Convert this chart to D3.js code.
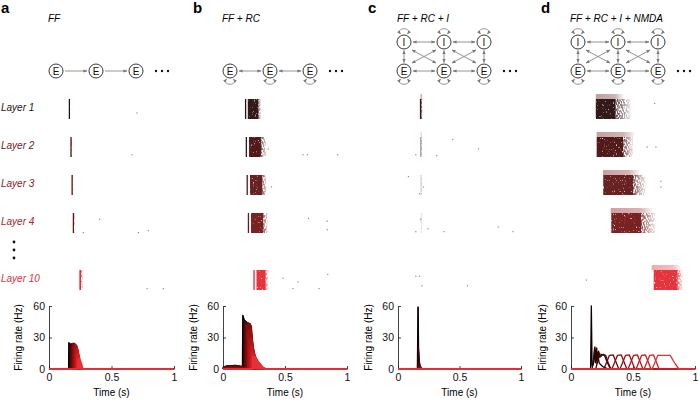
<!DOCTYPE html>
<html>
<head>
<meta charset="utf-8">
<script src="https://cdn.jsdelivr.net/npm/d3@7"></script>
<style>
  body { margin: 0; background: #fff; }
  svg { font-family: "Liberation Sans", Arial, Helvetica, sans-serif; }
</style>
</head>
<body>
<svg id="chart" width="699" height="400"></svg>
<script>
// panel headings
const panelLetters = ["a", "b", "c", "d"];
const panelTitles = ["FF", "FF + RC", "FF + RC + I", "FF + RC + I + NMDA"];

// raster rows (only some layers are shown)
const layerRows = ["Layer 1", "Layer 2", "Layer 3", "Layer 4", "Layer 10"];
const rowSlots = [0, 1, 2, 3, 4.5];
const labelColors = ["#231414", "#6e1d22", "#8a2026", "#a8232a", "#d9323a"];
const rasterColors = ["#2b0d0d", "#4a1111", "#5e1212", "#731313", "#e42a33"];
const inhibColors = ["#b89596", "#c09596", "#c49596", "#c89596", "#f0a0a6"];

// firing-rate curve colours, layer 1 .. layer 10
const layerColors = ["#0a0000", "#2e0505", "#4c0808", "#670b0b", "#810e0f",
  "#991113", "#b11418", "#c6181d", "#d91e25", "#e5323a"];

const rateTicks = [0, 30, 60];
const timeTicks = [0, 0.5, 1];

// excitatory raster blocks per row: [start, end of dense part, end of sparse part, density, onset line]
const rasterA = [[0.158, 0.168, 0.172, 1], [0.171, 0.181, 0.186, 1], [0.18, 0.19, 0.195, 1],
  [0.19, 0.2, 0.206, 1], [0.243, 0.256, 0.272, 1]];
const rasterB = [[0.2, 0.285, 0.306, 0.95, 0.177], [0.21, 0.306, 0.35, 0.95, 0.183],
  [0.218, 0.317, 0.35, 0.95, 0.19], [0.226, 0.325, 0.36, 0.95, 0.2],
  [0.27, 0.344, 0.365, 0.95, 0.245]];
const rasterC = [[0.178, 0.19, 0.2, 0.95], [0.18, 0.19, 0.197, 0.45], [0.182, 0.188, 0.196, 0.2],
  [0.185, 0.19, 0.198, 0.12], [0.2, 0.2, 0.2, 0]];
const rasterD = [[0.2, 0.36, 0.48, 0.95], [0.207, 0.42, 0.5, 0.95], [0.26, 0.5, 0.6, 0.95],
  [0.325, 0.565, 0.68, 0.95], [0.667, 0.86, 0.9, 0.95]];

// inhibitory raster bands per row: [start, end, density]
const inhibC = [[0.183, 0.2, 0.8], [0.184, 0.196, 0.4], null, null, null];
const inhibD = [[0.2, 0.42, 0.9], [0.207, 0.51, 0.9], [0.258, 0.548, 0.9],
  [0.32, 0.653, 0.9], [0.65, 0.885, 0.9]];

// stray spikes: [row, time, position inside row]
const strayA = [[0, 0.7, 0.7], [1, 0.66, 0.9], [3, 0.4, 0.3], [3, 0.27, 1], [3, 0.71, 1],
  [3, 0.79, 0.9], [4, 0.78, 0.95], [4, 0.91, 0.95]];
const strayB = [[1, 0.36, 0.6], [1, 0.64, 0.9], [1, 0.675, 0.9], [1, 0.92, 0.9], [2, 0.385, 0.6],
  [3, 0.685, 0.25], [3, 0.836, 0.4], [3, 0.836, 0.85], [4, 0.48, 0.4], [4, 0.6, 0.6],
  [4, 0.56, 0.95], [4, 0.84, 0.2], [4, 0.77, 0.95]];
const strayC = [[1, 0.44, 0.1], [1, 0.65, 0.6], [1, 0.14, 0.9], [1, 0.31, 0.95], [2, 0.08, 0.05],
  [2, 0.2, 0.6], [2, 0.17, 0.95], [3, 0.18, 0.3], [3, 0.24, 0.8], [3, 0.14, 0.95],
  [3, 0.37, 0.95], [3, 0.81, 0.7], [3, 0.93, 0.95], [4, 0.14, 0.3], [4, 0.17, 0.3],
  [4, 0.19, 0.8], [4, 0.56, 0.8]];
const strayD = [[0, 0.67, 0.2], [1, 0.61, 0.5], [1, 0.68, 0.5], [2, 0.72, 0.3], [2, 0.72, 0.6],
  [4, 0.12, 0.5]];

// firing rates (Hz) for layers 1..10: [time (s), rate]
const rateA = [
  [[0.157, 0], [0.159, 25], [0.168, 23], [0.178, 22], [0.186, 10], [0.194, 0]],
  [[0.165, 0], [0.167, 23], [0.176, 24], [0.186, 23], [0.194, 10], [0.202, 0]],
  [[0.172, 0], [0.175, 22], [0.184, 24], [0.194, 23], [0.202, 10], [0.21, 0]],
  [[0.18, 0], [0.183, 22], [0.192, 24.5], [0.202, 23], [0.21, 10], [0.218, 0]],
  [[0.188, 0], [0.191, 22], [0.2, 24.5], [0.21, 23], [0.218, 10], [0.226, 0]],
  [[0.196, 0], [0.199, 21], [0.208, 24], [0.218, 22], [0.226, 10], [0.234, 0]],
  [[0.204, 0], [0.207, 20], [0.216, 23], [0.226, 21], [0.234, 9], [0.242, 0]],
  [[0.212, 0], [0.215, 17], [0.224, 20], [0.234, 18], [0.242, 8], [0.25, 0]],
  [[0.22, 0], [0.223, 13], [0.232, 15], [0.242, 13], [0.25, 6], [0.258, 0]],
  [[0.228, 0], [0.232, 9], [0.242, 10], [0.252, 8], [0.262, 4], [0.272, 0]]
];
const rateB = [
  [[0, 1], [0.05, 1.5], [0.157, 1], [0.16, 51], [0.17, 47], [0.185, 45], [0.2, 42], [0.215, 25], [0.23, 4], [0.245, 0]],
  [[0, 2], [0.04, 3], [0.1, 3.5], [0.15, 2.5], [0.165, 2], [0.167, 45], [0.18, 45], [0.2, 44], [0.215, 38], [0.228, 15], [0.24, 2], [0.25, 0]],
  [[0, 2], [0.05, 3], [0.12, 3], [0.155, 2], [0.172, 2], [0.174, 44], [0.19, 44], [0.21, 43], [0.225, 36], [0.235, 14], [0.25, 2], [0.26, 0]],
  [[0, 1.5], [0.06, 2.5], [0.14, 2], [0.18, 1], [0.182, 43], [0.2, 44], [0.22, 43], [0.232, 32], [0.242, 14], [0.26, 2], [0.27, 0]],
  [[0, 1], [0.1, 1.5], [0.188, 1], [0.19, 41], [0.21, 43], [0.228, 41], [0.238, 26], [0.25, 12], [0.27, 2], [0.28, 0]],
  [[0.197, 0], [0.2, 36], [0.218, 38], [0.232, 32], [0.245, 20], [0.258, 10], [0.28, 2], [0.29, 0]],
  [[0.207, 0], [0.21, 28], [0.226, 30], [0.24, 22], [0.252, 16], [0.268, 8], [0.29, 2], [0.3, 0]],
  [[0.217, 0], [0.22, 22], [0.236, 22], [0.248, 16], [0.262, 12], [0.28, 6], [0.3, 2], [0.315, 0]],
  [[0.227, 0], [0.23, 16], [0.245, 15], [0.258, 12], [0.272, 9], [0.29, 5], [0.31, 2], [0.33, 0]],
  [[0.237, 0], [0.24, 12], [0.255, 12], [0.27, 10], [0.285, 7], [0.3, 5], [0.32, 2], [0.35, 0]]
];
const rateC = [
  [[0.158, 0], [0.163, 59], [0.167, 18], [0.172, 6], [0.18, 2], [0.19, 0]],
  [[0.16, 0], [0.165, 21], [0.17, 10], [0.178, 3], [0.19, 1], [0.2, 0]],
  [[0.163, 0], [0.168, 6], [0.175, 3], [0.19, 1], [0.2, 0]],
  [[0.166, 0], [0.172, 3], [0.185, 1], [0.2, 0]],
  [[0.17, 0], [0.175, 1.5], [0.19, 0.5], [0.2, 0]],
  [[0.17, 0], [0.18, 1], [0.2, 0]],
  [[0.175, 0], [0.18, 0.5], [0.2, 0]],
  [[0.18, 0], [0.19, 0.3], [0.2, 0]],
  [[0.18, 0], [0.19, 0.3], [0.2, 0]],
  [[0.18, 0], [0.19, 0.3], [0.2, 0]]
];
const rateD = [
  [[0.158, 0], [0.164, 60], [0.17, 3], [0.18, 4], [0.19, 20], [0.196, 6], [0.203, 18], [0.21, 5], [0.218, 14], [0.226, 6], [0.24, 4], [0.26, 2], [0.3, 0]],
  [[0.17, 0], [0.185, 12], [0.193, 21], [0.2, 8], [0.207, 20], [0.214, 9], [0.222, 17], [0.232, 11], [0.245, 14], [0.27, 13], [0.29, 7], [0.31, 2], [0.33, 0]],
  [[0.2, 0], [0.215, 8], [0.23, 15], [0.24, 12], [0.26, 14], [0.28, 13], [0.3, 6], [0.32, 0]],
  [[0.265, 0], [0.31, 13], [0.34, 13.5], [0.385, 0]],
  [[0.33, 0], [0.375, 13], [0.405, 13.5], [0.45, 0]],
  [[0.395, 0], [0.44, 13], [0.47, 13.5], [0.515, 0]],
  [[0.46, 0], [0.505, 13], [0.535, 13.5], [0.58, 0]],
  [[0.525, 0], [0.57, 13], [0.6, 13.5], [0.645, 0]],
  [[0.59, 0], [0.635, 13], [0.665, 13.5], [0.71, 0]],
  [[0.655, 0], [0.7, 13], [0.8, 13], [0.84, 5], [0.87, 0]]
];

const rasters = [rasterA, rasterB, rasterC, rasterD];
const inhibs = [null, null, inhibC, inhibD];
const strays = [strayA, strayB, strayC, strayD];
const rates = [rateA, rateB, rateC, rateD];

// layout
const panelLeft = [0, 175, 350, 524];
const axisRange = [[49, 174], [223, 347], [398, 521], [571, 695]];
const netCols = [[56, 96, 136], [230, 270, 310], [404, 444, 484], [578, 618, 658]];
const rowH = 20;
const eY = 71, iY = 42, nodeR = 7;

const svg = d3.select("#chart");
const defs = svg.append("defs");
svg.append("rect").attr("width", 699).attr("height", 400).attr("fill", "#fff");

defs.append("marker")
  .attr("id", "ah")
  .attr("viewBox", "0 0 10 10")
  .attr("refX", 9).attr("refY", 5)
  .attr("markerWidth", 4).attr("markerHeight", 4)
  .attr("markerUnits", "userSpaceOnUse")
  .attr("orient", "auto-start-reverse")
  .append("path").attr("d", "M0,1L10,5L0,9z").attr("fill", "#7a7a7a");

// speckle texture for the spike rasters
function speckle(id, offset) {
  const f = defs.append("filter").attr("id", id)
    .attr("filterUnits", "userSpaceOnUse")
    .attr("x", 0).attr("y", 0).attr("width", 699).attr("height", 400);
  f.append("feTurbulence")
    .attr("type", "fractalNoise").attr("baseFrequency", "0.9 0.45")
    .attr("numOctaves", 1).attr("seed", 7).attr("result", "n");
  f.append("feColorMatrix")
    .attr("in", "n").attr("type", "matrix")
    .attr("values", `0 0 0 0 0  0 0 0 0 0  0 0 0 0 0  6 0 0 0 ${offset}`)
    .attr("result", "m");
  f.append("feComposite").attr("in", "SourceGraphic").attr("in2", "m").attr("operator", "in");
}
speckle("speckDense", -1.2);
speckle("speckSparse", -2.4);

const rowY = d3.scaleLinear().domain([0, 1]).range([99, 137]);
const yRate = d3.scaleLinear().domain([0, 60]).range([369, 306]);

// layer labels
const labels = svg.append("g").attr("font-style", "italic").attr("font-size", 10);
layerRows.forEach((name, i) => {
  labels.append("text")
    .attr("x", 1)
    .attr("y", rowY(rowSlots[i]) + 11.5)
    .attr("fill", labelColors[i])
    .text(name);
});
svg.append("g").selectAll("circle")
  .data([242, 250, 258])
  .join("circle")
  .attr("cx", 14).attr("cy", (d) => d).attr("r", 1.4).attr("fill", "#111");

function arrow(g, x1, y1, x2, y2, both) {
  const l = g.append("line")
    .attr("x1", x1).attr("y1", y1).attr("x2", x2).attr("y2", y2)
    .attr("stroke", "#7a7a7a").attr("stroke-width", 0.8)
    .attr("marker-end", "url(#ah)");
  if (both) l.attr("marker-start", "url(#ah)");
}

function selfLoop(g, cx, cy, dir) {
  const y0 = cy + dir * (nodeR + 1);
  const y1 = cy + dir * (nodeR + 8);
  g.append("path")
    .attr("d", `M${cx - 3.5},${y0} C${cx - 9},${y1} ${cx + 9},${y1} ${cx + 3.5},${y0}`)
    .attr("fill", "none").attr("stroke", "#7a7a7a").attr("stroke-width", 0.8)
    .attr("marker-start", "url(#ah)").attr("marker-end", "url(#ah)");
}

function node(g, cx, cy, label) {
  g.append("circle").attr("cx", cx).attr("cy", cy).attr("r", nodeR)
    .attr("fill", "#fff").attr("stroke", "#222").attr("stroke-width", 0.9);
  g.append("text").attr("x", cx).attr("y", cy + 3.6)
    .attr("text-anchor", "middle").attr("font-size", 10).attr("fill", "#111")
    .text(label);
}

function drawNet(p) {
  const g = svg.append("g");
  const xs = netCols[p];
  const gap = nodeR + 2;
  for (let i = 0; i < xs.length - 1; i++) {
    arrow(g, xs[i] + gap, eY, xs[i + 1] - gap, eY, p > 0);
    if (p >= 2) {
      arrow(g, xs[i] + gap, iY, xs[i + 1] - gap, iY, true);
      arrow(g, xs[i] + 8, iY + 8, xs[i + 1] - 8, eY - 8, true);
      arrow(g, xs[i] + 8, eY - 8, xs[i + 1] - 8, iY + 8, true);
    }
  }
  xs.forEach((x) => {
    if (p >= 1) selfLoop(g, x, eY, 1);
    if (p >= 2) {
      selfLoop(g, x, iY, -1);
      arrow(g, x, iY + gap - 0.5, x, eY - gap + 0.5, true);
    }
  });
  xs.forEach((x) => {
    node(g, x, eY, "E");
    if (p >= 2) node(g, x, iY, "I");
  });
  const last = xs[xs.length - 1];
  g.append("g").selectAll("circle").data([0, 1, 2]).join("circle")
    .attr("cx", (d) => last + 20 + d * 6).attr("cy", eY).attr("r", 1.2).attr("fill", "#111");
}

panelLetters.forEach((letter, p) => {
  const x = d3.scaleLinear().domain([0, 1]).range(axisRange[p]);
  const left = panelLeft[p];

  // heading
  svg.append("text")
    .attr("x", p === 0 ? 1 : axisRange[p][0] - 30)
    .attr("y", 13)
    .attr("font-size", 15).attr("font-weight", "bold")
    .text(letter);
  svg.append("text")
    .attr("x", axisRange[p][0] - 1)
    .attr("y", 22)
    .attr("font-size", 10).attr("font-style", "italic")
    .text(panelTitles[p]);

  drawNet(p);

  // rasters
  const rg = svg.append("g");
  rasters[p].forEach((b, r) => {
    const top = rowY(rowSlots[r]);
    const col = rasterColors[r];
    const inh = inhibs[p] && inhibs[p][r];
    if (inh) {
      const gid = `gi${p}${r}`;
      const grad = defs.append("linearGradient").attr("id", gid);
      grad.append("stop").attr("offset", "0%").attr("stop-color", inhibColors[r]).attr("stop-opacity", inh[2]);
      grad.append("stop").attr("offset", "70%").attr("stop-color", inhibColors[r]).attr("stop-opacity", inh[2] * 0.8);
      grad.append("stop").attr("offset", "100%").attr("stop-color", inhibColors[r]).attr("stop-opacity", 0.1);
      rg.append("rect")
        .attr("x", x(inh[0])).attr("y", top - 5)
        .attr("width", x(inh[1]) - x(inh[0])).attr("height", 5)
        .attr("fill", `url(#${gid})`);
    }
    if (b[3] <= 0) return;
    if (b[4] != null) {
      rg.append("rect")
        .attr("x", x(b[4])).attr("y", top)
        .attr("width", 1.3).attr("height", rowH)
        .attr("fill", col);
    }
    const dense = rg.append("rect")
      .attr("x", x(b[0])).attr("y", top)
      .attr("width", Math.max(1, x(b[1]) - x(b[0]))).attr("height", rowH)
      .attr("fill", col).attr("opacity", b[3]);
    if (x(b[1]) - x(b[0]) > 4) dense.attr("filter", "url(#speckDense)");
    const gid = `ge${p}${r}`;
    const grad = defs.append("linearGradient").attr("id", gid);
    grad.append("stop").attr("offset", "0%").attr("stop-color", col).attr("stop-opacity", b[3] * 0.8);
    grad.append("stop").attr("offset", "100%").attr("stop-color", col).attr("stop-opacity", 0.1);
    rg.append("rect")
      .attr("x", x(b[1])).attr("y", top)
      .attr("width", Math.max(0, x(b[2]) - x(b[1]))).attr("height", rowH)
      .attr("fill", `url(#${gid})`)
      .attr("filter", "url(#speckSparse)");
  });
  rg.append("g").selectAll("rect").data(strays[p]).join("rect")
    .attr("x", (d) => x(d[1]))
    .attr("y", (d) => rowY(rowSlots[d[0]]) + d[2] * (rowH - 1))
    .attr("width", 1.2).attr("height", 1.2)
    .attr("fill", "#8c8c8c");

  // firing-rate axes
  const ax = svg.append("g");
  ax.append("g")
    .attr("transform", `translate(${x(0)},0)`)
    .call(d3.axisLeft(yRate).tickValues(rateTicks).tickSize(-3).tickSizeOuter(0).tickPadding(4));
  ax.append("g")
    .attr("transform", `translate(0,${yRate(0)})`)
    .call(d3.axisBottom(x).tickValues(timeTicks).tickSize(-3).tickSizeOuter(0).tickPadding(5).tickFormat((d) => d));
  ax.selectAll("g").attr("font-family", null).attr("font-size", null);
  ax.selectAll("text").attr("font-size", 10.5).attr("fill", "#111");
  ax.selectAll("path, line").attr("stroke", "#111").attr("stroke-width", 0.8);

  svg.append("text")
    .attr("transform", `translate(${left + 22},${(yRate(0) + yRate(60)) / 2}) rotate(-90)`)
    .attr("text-anchor", "middle").attr("font-size", 10)
    .text("Firing rate (Hz)");
  svg.append("text")
    .attr("x", (x(0) + x(1)) / 2).attr("y", 396)
    .attr("text-anchor", "middle").attr("font-size", 10)
    .text("Time (s)");

  // firing-rate curves, layer 1 first so layer 10 lies on top
  const cg = svg.append("g");
  const area = d3.area().x((d) => x(d[0])).y0(yRate(0)).y1((d) => yRate(d[1]));
  const line = d3.line().x((d) => x(d[0])).y((d) => yRate(d[1]));
  rates[p].forEach((pts, k) => {
    const full = [...(pts[0][0] > 0 ? [[0, 0]] : []), ...pts,
      ...(pts[pts.length - 1][0] < 1 ? [[1, 0]] : [])];
    if (p < 3) {
      cg.append("path").attr("d", area(full))
        .attr("fill", layerColors[k]).attr("stroke", layerColors[k]).attr("stroke-width", 0.6);
    }
    cg.append("path").attr("d", line(full))
      .attr("fill", "none").attr("stroke", layerColors[k])
      .attr("stroke-width", p < 3 ? 1.4 : 1.3).attr("stroke-linejoin", "round");
  });
});
</script>
</body>
</html>
